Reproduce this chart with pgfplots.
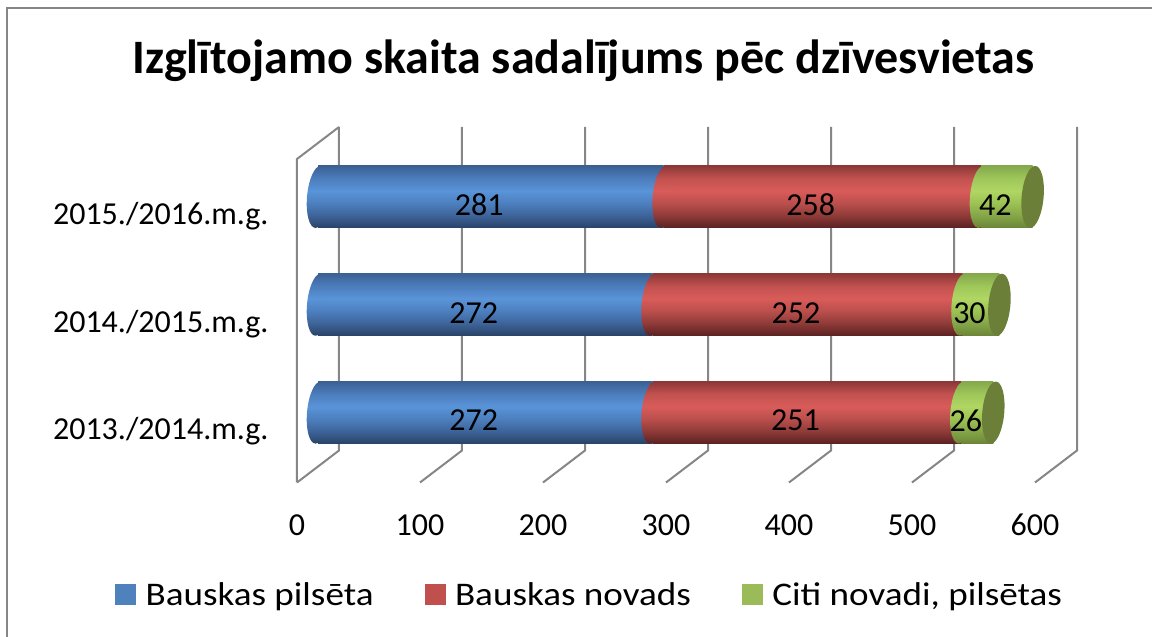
\documentclass[border=0pt]{standalone}
\usepackage{fontspec}
\usepackage{pgfplots}
\pgfplotsset{compat=1.18}
\setmainfont{Carlito}
\definecolor{gridc}{HTML}{868686}
\definecolor{legblue}{HTML}{4F81BD}
\definecolor{legred}{HTML}{C0504D}
\definecolor{leggreen}{HTML}{9BBB59}
\definecolor{capgreen}{HTML}{6B7F38}
\pgfdeclareverticalshading{blueCyl}{100bp}{
 rgb(0bp)=(0.16,0.26,0.40);rgb(25bp)=(0.16,0.26,0.40);rgb(35bp)=(0.24,0.39,0.60);rgb(45bp)=(0.30,0.50,0.75);rgb(55bp)=(0.35,0.58,0.85);rgb(65bp)=(0.30,0.49,0.74);rgb(75bp)=(0.23,0.38,0.58);rgb(100bp)=(0.23,0.38,0.58)}
\pgfdeclareverticalshading{redCyl}{100bp}{
 rgb(0bp)=(0.35,0.13,0.13);rgb(25bp)=(0.35,0.13,0.13);rgb(35bp)=(0.56,0.23,0.22);rgb(45bp)=(0.73,0.31,0.30);rgb(55bp)=(0.85,0.36,0.35);rgb(65bp)=(0.76,0.32,0.31);rgb(75bp)=(0.55,0.22,0.22);rgb(100bp)=(0.55,0.22,0.22)}
\pgfdeclareverticalshading{greenCyl}{100bp}{
 rgb(0bp)=(0.42,0.52,0.22);rgb(25bp)=(0.42,0.52,0.22);rgb(35bp)=(0.52,0.65,0.28);rgb(45bp)=(0.61,0.76,0.33);rgb(55bp)=(0.69,0.84,0.39);rgb(65bp)=(0.62,0.78,0.35);rgb(75bp)=(0.52,0.66,0.30);rgb(100bp)=(0.52,0.66,0.30)}
\pgfdeclareplotmark{capblue}{\pgfpathellipse{\pgfpointorigin}{\pgfqpoint{11pt}{0pt}}{\pgfqpoint{2.5pt}{31pt}}\pgfshadepath{blueCyl}{0}\pgfusepath{discard}}
\pgfdeclareplotmark{capred}{\pgfpathellipse{\pgfpointorigin}{\pgfqpoint{11pt}{0pt}}{\pgfqpoint{2.5pt}{31pt}}\pgfshadepath{redCyl}{0}\pgfusepath{discard}}
\pgfdeclareplotmark{capgreen}{\pgfpathellipse{\pgfpointorigin}{\pgfqpoint{11pt}{0pt}}{\pgfqpoint{2.5pt}{31pt}}\pgfshadepath{greenCyl}{0}\pgfusepath{discard}}
\pgfdeclareplotmark{capend}{\pgfpathellipse{\pgfpointorigin}{\pgfqpoint{11pt}{0pt}}{\pgfqpoint{2.5pt}{31pt}}\pgfsetfillcolor{capgreen}\pgfusepath{fill}}
\newcommand{\lab}{\fontsize{32}{38}\selectfont}
\newcommand{\leg}{\fontsize{33}{38}\selectfont\addfontfeatures{FakeStretch=1.125}}
\pgfplotsset{common/.style={
  at={(318pt,170.5pt)}, anchor=south west, scale only axis,
  width=738pt, height=323.5pt, xmin=0, xmax=600, ymin=-0.5, ymax=2.5,
  clip=false}}
% one stacked cylinder: row, Bauskas pilseta, Bauskas novads, citi
\newcommand{\cylrow}[4]{%
\begin{axis}[common, hide axis, xbar stacked, bar width=62pt]
\addplot[draw=none,shade,shading=blueCyl] coordinates {(#2,#1)};
\addplot[draw=none,shade,shading=redCyl] coordinates {(#3,#1)};
\addplot[draw=none,shade,shading=greenCyl] coordinates {(#4,#1)};
\end{axis}}
\begin{document}
\begin{tikzpicture}[x=1pt,y=1pt]
\path[use as bounding box] (0,0) rectangle (1152,637);
\begin{scope}
\clip (0,0) rectangle (1152,637);
\draw[gridc,line width=2.5pt] (7,-5)--(7,629)--(1160,629);
\end{scope}
\node[font=\fontsize{48}{58}\selectfont\bfseries,anchor=center] at (583.5,576) {Izglītojamo skaita sadalījums pēc dzīvesvietas};
\begin{axis}[common,
  axis line style={draw=none}, major tick length=0pt,
  xtick={0,100,...,600}, ytick={0,1,2},
  yticklabels={\raisebox{-1pt}{2013./2014.m.g.},\raisebox{-1pt}{2014./2015.m.g.},\raisebox{-6pt}{2015./2016.m.g.}},
  /pgf/number format/assume math mode=true,
  xticklabel style={font=\lab,anchor=center,text height=21pt,text depth=0pt,xshift=-21pt,yshift=-59pt},
  yticklabel style={font=\lab,anchor=east,xshift=-46pt,yshift=-19pt},
  legend columns=3,
  legend style={draw=none,fill=none,font=\leg,at={(-206pt,-128pt)},anchor=west,
    /tikz/every even column/.append style={column sep=49pt},
    /tikz/every odd column/.append style={column sep=8pt},
    legend cell align=left},
]
\pgfplotsinvokeforeach{0,100,...,600}{
  \draw[gridc,line width=2pt] ([shift={(21pt,16pt)}]axis cs:#1,2.5) -- ([shift={(21pt,16pt)}]axis cs:#1,-0.5) -- ([shift={(-21pt,-16pt)}]axis cs:#1,-0.5);
}
\draw[gridc,line width=2pt] ([shift={(21pt,16pt)}]axis cs:0,2.5) -- ([shift={(-21pt,-16pt)}]axis cs:0,2.5) -- ([shift={(-21pt,-16pt)}]axis cs:0,-0.5);
\addlegendimage{legend image code/.code={\fill[legblue] (0pt,-10pt) rectangle (20pt,10pt);}}
\addlegendimage{legend image code/.code={\fill[legred] (0pt,-10pt) rectangle (20pt,10pt);}}
\addlegendimage{legend image code/.code={\fill[leggreen] (0pt,-10pt) rectangle (20pt,10pt);}}
\legend{Bauskas pilsēta,Bauskas novads,{Citi novadi, pilsētas}}
\end{axis}
\cylrow{0}{272}{251}{26}
\cylrow{1}{272}{252}{30}
\cylrow{2}{281}{258}{42}
\begin{axis}[common, hide axis]
\addplot[only marks,mark=capblue] coordinates {(0,0) (0,1) (0,2)};
\addplot[only marks,mark=capred] coordinates {(272,0) (272,1) (281,2)};
\addplot[only marks,mark=capgreen] coordinates {(523,0) (524,1) (539,2)};
\addplot[only marks,mark=capend] coordinates {(549,0) (554,1) (581,2)};
\addplot[draw=none,mark=none,point meta=explicit symbolic,nodes near coords,
  every node near coord/.style={font=\lab,text=black,anchor=center,xshift=-11.5pt,yshift=-8pt}]
 coordinates {(136,0)[272] (136,1)[272] (140.5,2)[281]
   (397.5,0)[251] (398,1)[252] (410,2)[258]
   (536,0)[26] (539,1)[30] (560,2)[42]};
\end{axis}
\end{tikzpicture}
\end{document}
